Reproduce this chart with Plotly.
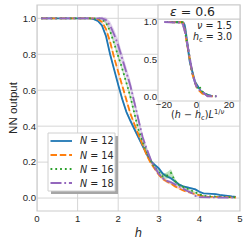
import plotly.graph_objects as go

# ---------------- data ----------------
h_vals = [0.1, 0.2, 0.3, 0.4, 0.5, 0.6, 0.7, 0.8, 0.9, 1.0,
          1.1, 1.2, 1.3, 1.4, 1.5, 1.6, 1.7, 1.8, 1.9, 2.0,
          2.1, 2.2, 2.3, 2.4, 2.5, 2.6, 2.7, 2.8, 2.9, 3.0,
          3.1, 3.2, 3.3, 3.4, 3.5, 3.6, 3.7, 3.8, 3.9, 4.0,
          4.1, 4.2, 4.3, 4.4, 4.5, 4.6, 4.7, 4.8, 4.9]

sizes = [12, 14, 16, 18]

out_N12 = [1.0, 1.0, 1.0, 1.0, 1.0, 1.0, 1.0, 1.0, 1.0, 1.0,
           1.0, 1.0, 1.0, 0.995, 0.985, 0.96, 0.90, 0.80, 0.71, 0.63,
           0.55, 0.48, 0.43, 0.38, 0.335, 0.29, 0.245, 0.205, 0.185, 0.165,
           0.135, 0.12, 0.11, 0.09, 0.075, 0.065, 0.06, 0.055, 0.048, 0.035,
           0.026, 0.025, 0.025, 0.022, 0.018, 0.014, 0.011, 0.009, 0.007]
out_N14 = [1.0, 1.0, 1.0, 1.0, 1.0, 1.0, 1.0, 1.0, 1.0, 1.0,
           1.0, 1.0, 1.0, 1.0, 0.995, 0.98, 0.94, 0.87, 0.78, 0.70,
           0.62, 0.54, 0.47, 0.41, 0.35, 0.29, 0.24, 0.195, 0.16, 0.13,
           0.105, 0.09, 0.08, 0.065, 0.052, 0.042, 0.035, 0.028, 0.02, 0.013,
           0.01, 0.008, 0.007, 0.006, 0.005, 0.004, 0.004, 0.003, 0.003]
out_N16 = [1.0, 1.0, 1.0, 1.0, 1.0, 1.0, 1.0, 1.0, 1.0, 1.0,
           1.0, 1.0, 1.0, 1.0, 1.0, 0.995, 0.975, 0.93, 0.865, 0.79,
           0.72, 0.645, 0.565, 0.47, 0.38, 0.315, 0.26, 0.21, 0.17, 0.145,
           0.12, 0.125, 0.14, 0.095, 0.072, 0.062, 0.052, 0.042, 0.03, 0.018,
           0.012, 0.01, 0.009, 0.008, 0.007, 0.006, 0.005, 0.005, 0.004]
out_N18 = [1.0, 1.0, 1.0, 1.0, 1.0, 1.0, 1.0, 1.0, 1.0, 1.0,
           1.0, 1.0, 1.0, 1.0, 1.0, 1.0, 0.99, 0.96, 0.91, 0.85,
           0.775, 0.70, 0.625, 0.53, 0.43, 0.34, 0.275, 0.215, 0.17, 0.135,
           0.11, 0.095, 0.088, 0.075, 0.062, 0.05, 0.04, 0.03, 0.012, 0.005,
           0.004, 0.003, 0.003, 0.003, 0.002, 0.002, 0.002, 0.002, 0.002]

err_N12 = [0, 0, 0, 0, 0, 0, 0, 0, 0, 0,
           0, 0, 0, 0.003, 0.005, 0.008, 0.01, 0.012, 0.012, 0.012,
           0.012, 0.012, 0.01, 0.01, 0.01, 0.01, 0.008, 0.008, 0.008, 0.008,
           0.008, 0.008, 0.008, 0.006, 0.006, 0.005, 0.005, 0.005, 0.005, 0.004,
           0.003, 0.003, 0.003, 0.003, 0.002, 0.002, 0.002, 0.002, 0.002]
err_N14 = [0, 0, 0, 0, 0, 0, 0, 0, 0, 0,
           0, 0, 0, 0, 0.003, 0.006, 0.01, 0.012, 0.012, 0.012,
           0.012, 0.012, 0.012, 0.01, 0.01, 0.01, 0.01, 0.008, 0.008, 0.008,
           0.008, 0.008, 0.006, 0.006, 0.005, 0.005, 0.004, 0.004, 0.003, 0.003,
           0.002, 0.002, 0.002, 0.002, 0.002, 0.002, 0.002, 0.002, 0.002]
err_N16 = [0, 0, 0, 0, 0, 0, 0, 0, 0, 0,
           0, 0, 0, 0, 0, 0.004, 0.008, 0.012, 0.015, 0.015,
           0.015, 0.015, 0.015, 0.015, 0.012, 0.012, 0.01, 0.01, 0.01, 0.01,
           0.012, 0.018, 0.02, 0.012, 0.008, 0.006, 0.006, 0.005, 0.004, 0.003,
           0.003, 0.002, 0.002, 0.002, 0.002, 0.002, 0.002, 0.002, 0.002]
err_N18 = [0, 0, 0, 0, 0, 0, 0, 0, 0, 0,
           0, 0, 0, 0, 0.003, 0.008, 0.015, 0.022, 0.028, 0.03,
           0.03, 0.03, 0.03, 0.028, 0.025, 0.02, 0.015, 0.012, 0.01, 0.01,
           0.008, 0.008, 0.008, 0.006, 0.006, 0.005, 0.005, 0.004, 0.003, 0.003,
           0.002, 0.002, 0.002, 0.002, 0.002, 0.002, 0.002, 0.002, 0.002]

outputs = [out_N12, out_N14, out_N16, out_N18]
errors = [err_N12, err_N14, err_N16, err_N18]

h_c = 3.0
nu = 1.5
epsilon = 0.6

x_ticks = [0, 1, 2, 3, 4, 5]
y_ticks = [0.0, 0.2, 0.4, 0.6, 0.8, 1.0]
y_tick_text = ["0.0", "0.2", "0.4", "0.6", "0.8", "1.0"]
inset_x_ticks = [-20, 0, 20]
inset_x_text = ["\u221220", "0", "20"]
inset_y_ticks = [0.0, 0.5, 1.0]
inset_y_text = ["0.0", "0.5", "1.0"]

# ---------------- style ----------------
colors = ["#1f77b4", "#ff7f0e", "#2ca02c", "#9467bd"]
fills = ["rgba(31,119,180,0.3)", "rgba(255,127,14,0.3)",
         "rgba(44,160,44,0.3)", "rgba(148,103,189,0.3)"]
dashes = ["solid", "6.5px,2.8px", "1.8px,3px", "11px,2.8px,1.8px,2.8px"]
FONT = "Liberation Sans, Arial, sans-serif"
MATH = "DejaVu Sans, sans-serif"
TXT = "#262626"
GRID = "#d6d6d6"
EDGE = "#cccccc"

W, H = 249, 249
L, R, T, B = 37, 9, 5, 38
PW, PH = W - L - R, H - T - B


def pxx(x):
    return (x - L) / PW


def pxy(y):
    return (H - B - y) / PH


fig = go.Figure()

# main curves with bands
for N, ys, es, c, f, d in zip(sizes, outputs, errors, colors, fills, dashes):
    upper = [a + b for a, b in zip(ys, es)]
    lower = [a - b for a, b in zip(ys, es)]
    fig.add_trace(go.Scatter(x=h_vals + h_vals[::-1], y=upper + lower[::-1],
                             fill="toself", fillcolor=f, line=dict(width=0),
                             hoverinfo="skip", showlegend=False,
                             xaxis="x", yaxis="y"))
    fig.add_trace(go.Scatter(x=h_vals, y=ys, mode="lines",
                             line=dict(color=c, width=1.8, dash=d),
                             name=f"N = {N}", showlegend=False,
                             xaxis="x", yaxis="y"))

# inset: scaled data
for N, ys, c, d in zip(sizes, outputs, colors, dashes):
    xs = [(hv - h_c) * N ** (1.0 / nu) for hv in h_vals]
    fig.add_trace(go.Scatter(x=xs, y=ys, mode="lines",
                             line=dict(color=c, width=2.0, dash=d),
                             showlegend=False, xaxis="x2", yaxis="y2"))

shapes = []
# main grid as shapes (so the inset can cover it)
for xv in x_ticks:
    shapes.append(dict(type="line", xref="x", yref="paper", x0=xv, x1=xv,
                       y0=0, y1=1, line=dict(color=GRID, width=1), layer="below"))
for yv in y_ticks:
    shapes.append(dict(type="line", xref="paper", yref="y", x0=0, x1=1,
                       y0=yv, y1=yv, line=dict(color=GRID, width=1), layer="below"))
# inset white background
shapes.append(dict(type="rect", xref="paper", yref="paper",
                   x0=pxx(158), x1=1, y0=pxy(101), y1=pxy(19),
                   fillcolor="white", line=dict(width=0), layer="below"))
# main frame
shapes.append(dict(type="rect", xref="paper", yref="paper", x0=0, x1=1, y0=0, y1=1,
                   line=dict(color=EDGE, width=1.2), fillcolor="rgba(0,0,0,0)", layer="above"))
# inset frame
shapes.append(dict(type="rect", xref="paper", yref="paper",
                   x0=pxx(158), x1=1, y0=pxy(101), y1=pxy(19),
                   line=dict(color=EDGE, width=1.2), fillcolor="rgba(0,0,0,0)", layer="above"))
# inset title box
shapes.append(dict(type="rect", xref="paper", yref="paper",
                   x0=pxx(158), x1=1, y0=pxy(19), y1=1,
                   line=dict(color=EDGE, width=1.2), fillcolor="white", layer="above"))

# legend (drawn manually for matplotlib-like compact spacing)
shapes.append(dict(type="rect", xref="paper", yref="paper",
                   x0=pxx(51), x1=pxx(118), y0=pxy(194), y1=pxy(136),
                   fillcolor="#a6a6a6", line=dict(width=0), layer="above"))
shapes.append(dict(type="rect", xref="paper", yref="paper",
                   x0=pxx(48), x1=pxx(115), y0=pxy(191), y1=pxy(133),
                   fillcolor="white", line=dict(color="#d0d0d0", width=1), layer="above"))
annotations = []
leg_rows = [141, 155, 169, 183]
for N, c, d, yy in zip(sizes, colors, dashes, leg_rows):
    shapes.append(dict(type="line", xref="paper", yref="paper",
                       x0=pxx(50.5), x1=pxx(72), y0=pxy(yy), y1=pxy(yy),
                       line=dict(color=c, width=1.8, dash=d), layer="above"))
    annotations.append(dict(xref="paper", yref="paper", x=pxx(78), y=pxy(yy),
                            text=f"<i>N</i> = {N}", showarrow=False,
                            xanchor="left", yanchor="middle",
                            font=dict(family=MATH, size=9.6, color=TXT)))

# inset title and texts
annotations.append(dict(xref="paper", yref="paper", x=pxx(192), y=pxy(12),
                        text=f"<i>\u03b5</i> = {epsilon}", showarrow=False,
                        xanchor="center", yanchor="middle",
                        font=dict(family=MATH, size=12.5, color=TXT)))
annotations.append(dict(xref="paper", yref="paper", x=pxx(234), y=pxy(25.5),
                        text=f"<i>\u03bd</i> = {nu}", showarrow=False,
                        xanchor="right", yanchor="middle",
                        font=dict(family=MATH, size=9.6, color=TXT)))
annotations.append(dict(xref="paper", yref="paper", x=pxx(234), y=pxy(37),
                        text=f"<i>h</i><sub>c</sub> = {h_c}", showarrow=False,
                        xanchor="right", yanchor="middle",
                        font=dict(family=MATH, size=9.6, color=TXT)))
annotations.append(dict(xref="paper", yref="paper", x=pxx(197), y=pxy(114.5),
                        text="(<i>h</i> \u2212 <i>h</i><sub>c</sub>)<i>L</i><sup>1/<i>\u03bd</i></sup>",
                        showarrow=False, xanchor="center", yanchor="middle",
                        font=dict(family=MATH, size=9.6, color=TXT)))

axis_font = dict(family=FONT, size=9.6, color=TXT)

fig.update_layout(
    width=W, height=H,
    margin=dict(l=L, r=R, t=T, b=B, autoexpand=False),
    paper_bgcolor="white", plot_bgcolor="white",
    showlegend=False,
    shapes=shapes, annotations=annotations,
    xaxis=dict(domain=[0, 1], range=[0, 5], tickvals=x_ticks,
               showgrid=False, zeroline=False, showline=False, ticks="",
               tickfont=axis_font,
               title=dict(text="<i>h</i>", font=dict(family=MATH, size=11.5, color=TXT),
                          standoff=6)),
    yaxis=dict(domain=[0, 1], range=[-0.072, 1.074], tickvals=y_ticks, ticktext=y_tick_text,
               showgrid=False, zeroline=False, showline=False, ticks="",
               tickfont=axis_font,
               title=dict(text="NN output", font=dict(family=FONT, size=11.5, color=TXT),
                          standoff=2)),
    xaxis2=dict(domain=[pxx(158), 1], anchor="free", position=pxy(97), range=[-23.7, 26.8],
                tickvals=inset_x_ticks, ticktext=inset_x_text,
                showgrid=False, zeroline=False, showline=False, ticks="",
                tickfont=axis_font),
    yaxis2=dict(domain=[pxy(101), pxy(19)], anchor="x2", range=[-0.06, 1.04],
                tickvals=inset_y_ticks, ticktext=inset_y_text,
                showgrid=False, zeroline=False, showline=False, ticks="",
                tickfont=axis_font),
)

fig.write_html("out.html", config={"displayModeBar": False},
               post_script="document.body.style.margin='0';document.body.style.padding='0';")
